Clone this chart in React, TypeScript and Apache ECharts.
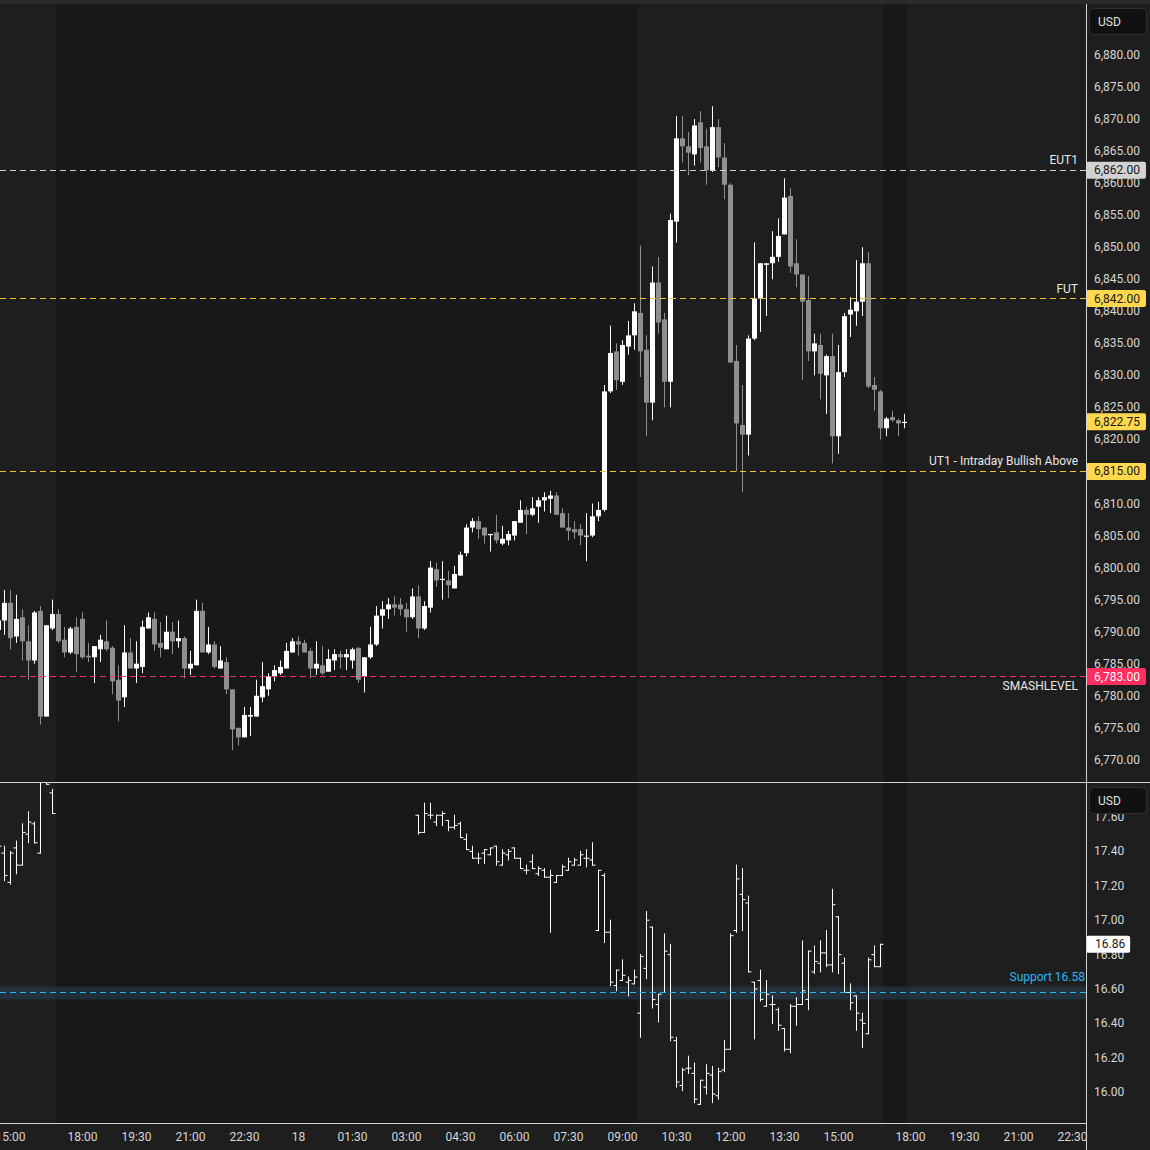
import React, { useEffect, useRef } from "react";
import * as echarts from "echarts";

// ---------------- DATA ----------------
// Bar slots: 10-minute bars, slot 0 = 15:00 of the previous session (17:00-18:00 break removed)
const esFirstSlot = -2;
const esOpen = [
  6790.25, 6791.75, 6794.5, 6789.25, 6792.25, 6788.5, 6785.5, 6793.25, 6776.75, 6790.5,
  6792.75, 6788.75, 6786.75, 6790.75, 6792.0, 6786.25, 6786.0, 6787.25, 6788.5, 6787.5,
  6782.5, 6779.75, 6786.75, 6784.25, 6784.5, 6790.5, 6792.0, 6788.25, 6787.25, 6790.0,
  6788.5, 6789.0, 6784.25, 6784.75, 6793.25, 6786.75, 6788.0, 6784.25, 6785.25, 6781.0,
  6775.0, 6773.5, 6776.75, 6776.75, 6779.75, 6781.0, 6783.0, 6783.5, 6784.25, 6786.75,
  6788.5, 6788.25, 6787.0, 6784.25, 6784.75, 6783.75, 6785.5, 6786.5, 6786.0, 6785.5,
  6787.5, 6783.0, 6786.0, 6788.0, 6792.5, 6793.5, 6794.25, 6794.25, 6793.5, 6792.25,
  6795.5, 6790.5, 6793.75, 6799.75, 6798.25, 6798.0, 6796.75, 6798.75, 6802.25, 6806.25,
  6807.25, 6806.25, 6805.25, 6805.5, 6803.75, 6804.25, 6805.0, 6807.0, 6809.0, 6808.25,
  6809.5, 6810.5, 6810.75, 6811.25, 6808.5, 6806.25, 6806.0, 6806.0, 6805.0, 6805.0,
  6808.0, 6809.0, 6827.5, 6833.75, 6829.0, 6834.5, 6836.25, 6839.75, 6834.0, 6825.75,
  6844.5, 6838.75, 6829.0, 6854.0, 6867.0, 6865.75, 6864.5, 6869.5, 6865.75, 6862.0,
  6868.75, 6864.0, 6859.75, 6832.25, 6822.25, 6820.75, 6835.75, 6842.0, 6847.25, 6847.5,
  6848.5, 6852.0, 6858.0, 6847.5, 6845.75, 6841.75, 6833.75, 6834.75, 6830.0, 6833.0,
  6820.5, 6830.5, 6839.5, 6840.0, 6841.5, 6847.5, 6828.5, 6827.5, 6821.75, 6823.5,
  6823.0, 6822.75,
];
const esClose = [
  6791.75, 6794.5, 6789.0, 6792.0, 6788.5, 6785.5, 6793.0, 6776.75, 6791.0, 6792.75,
  6788.5, 6786.75, 6790.5, 6786.5, 6786.0, 6786.0, 6787.75, 6788.75, 6787.25, 6782.25,
  6779.25, 6786.75, 6784.25, 6785.0, 6790.75, 6792.25, 6788.0, 6787.5, 6790.0, 6788.5,
  6789.0, 6784.25, 6785.0, 6793.25, 6786.75, 6788.0, 6784.5, 6785.5, 6781.0, 6774.75,
  6773.5, 6777.0, 6777.0, 6780.0, 6781.5, 6783.0, 6784.0, 6784.5, 6787.0, 6788.5,
  6788.0, 6786.75, 6784.25, 6785.0, 6783.5, 6785.75, 6786.5, 6786.0, 6786.5, 6787.25,
  6782.5, 6786.0, 6788.0, 6792.5, 6793.5, 6794.25, 6793.75, 6793.5, 6792.25, 6795.5,
  6790.5, 6794.0, 6800.0, 6798.0, 6798.25, 6797.25, 6799.0, 6802.0, 6806.25, 6807.25,
  6806.0, 6805.0, 6805.25, 6804.25, 6804.5, 6805.25, 6807.25, 6809.0, 6808.25, 6809.25,
  6810.5, 6811.0, 6811.25, 6808.25, 6806.25, 6805.75, 6805.5, 6805.0, 6805.0, 6808.0,
  6809.0, 6827.5, 6833.5, 6829.25, 6834.75, 6836.25, 6840.0, 6833.75, 6825.75, 6844.5,
  6838.25, 6829.0, 6854.25, 6867.0, 6865.75, 6864.75, 6869.0, 6865.5, 6862.0, 6868.75,
  6864.0, 6859.75, 6832.0, 6822.5, 6820.75, 6835.75, 6842.0, 6847.5, 6847.5, 6848.5,
  6851.75, 6857.75, 6847.0, 6845.75, 6841.5, 6833.75, 6835.0, 6830.25, 6833.0, 6820.5,
  6830.5, 6839.25, 6840.25, 6841.5, 6847.5, 6828.25, 6827.75, 6821.75, 6823.25, 6823.0,
  6822.5, 6822.75,
];
const esHigh = [
  6792.5, 6796.5, 6796.5, 6795.75, 6793.5, 6791.0, 6793.25, 6794.0, 6791.0, 6795.0,
  6793.5, 6790.75, 6790.75, 6792.25, 6793.0, 6788.25, 6787.75, 6789.5, 6791.75, 6787.75,
  6784.75, 6791.0, 6789.0, 6788.5, 6791.75, 6793.0, 6793.0, 6791.5, 6792.5, 6791.5,
  6791.75, 6789.25, 6787.0, 6795.0, 6794.5, 6790.75, 6788.5, 6787.75, 6786.0, 6781.0,
  6775.0, 6778.25, 6778.25, 6782.5, 6785.25, 6783.5, 6784.75, 6785.5, 6788.25, 6789.0,
  6789.25, 6788.75, 6787.5, 6788.5, 6787.75, 6787.25, 6787.25, 6787.0, 6787.25, 6787.5,
  6787.5, 6786.0, 6790.75, 6794.0, 6794.75, 6795.25, 6795.5, 6795.25, 6794.5, 6796.75,
  6797.25, 6794.75, 6801.0, 6800.75, 6801.0, 6799.5, 6800.25, 6802.5, 6806.75, 6807.75,
  6808.0, 6806.25, 6805.25, 6808.25, 6806.5, 6805.75, 6807.25, 6810.5, 6809.5, 6811.0,
  6811.0, 6811.75, 6812.0, 6811.75, 6809.25, 6808.5, 6807.25, 6806.75, 6808.5, 6810.0,
  6810.25, 6828.5, 6837.75, 6835.0, 6835.5, 6838.5, 6841.25, 6850.25, 6836.25, 6847.0,
  6848.5, 6839.75, 6855.25, 6870.5, 6870.5, 6868.0, 6870.0, 6871.25, 6868.5, 6872.0,
  6870.0, 6866.25, 6860.0, 6834.75, 6828.5, 6836.25, 6850.75, 6847.5, 6847.5, 6852.5,
  6854.5, 6860.75, 6859.25, 6851.25, 6845.75, 6845.5, 6836.5, 6836.5, 6833.25, 6836.5,
  6834.75, 6839.75, 6842.25, 6848.0, 6850.0, 6849.25, 6829.75, 6827.75, 6823.5, 6824.5,
  6823.25, 6824.0,
];
const esLow = [
  6789.5, 6789.5, 6787.25, 6788.25, 6785.5, 6782.5, 6785.0, 6775.5, 6776.75, 6790.25,
  6788.25, 6786.0, 6786.5, 6783.75, 6785.75, 6785.25, 6782.0, 6785.25, 6787.0, 6780.25,
  6776.0, 6778.25, 6784.25, 6782.0, 6783.5, 6790.5, 6787.0, 6786.0, 6787.25, 6786.5,
  6787.5, 6782.75, 6783.25, 6784.75, 6786.75, 6786.5, 6784.25, 6784.25, 6780.25, 6771.5,
  6772.25, 6773.5, 6773.75, 6776.75, 6779.0, 6780.0, 6782.25, 6783.25, 6784.25, 6786.75,
  6786.25, 6786.75, 6782.75, 6783.25, 6783.25, 6783.75, 6784.0, 6784.25, 6784.0, 6784.25,
  6782.0, 6780.5, 6785.75, 6787.75, 6790.5, 6792.0, 6792.5, 6792.5, 6790.0, 6792.0,
  6789.0, 6790.25, 6793.0, 6797.0, 6795.0, 6795.25, 6796.75, 6798.75, 6801.75, 6805.5,
  6804.5, 6803.75, 6802.5, 6803.75, 6803.5, 6803.5, 6804.25, 6807.0, 6805.25, 6808.0,
  6807.0, 6808.75, 6808.5, 6808.25, 6806.25, 6804.25, 6804.5, 6803.5, 6801.0, 6804.75,
  6807.25, 6808.75, 6827.25, 6827.75, 6828.5, 6833.25, 6834.0, 6829.75, 6820.5, 6823.0,
  6836.5, 6825.0, 6825.0, 6850.75, 6863.25, 6861.25, 6862.75, 6863.25, 6859.75, 6861.75,
  6862.5, 6857.5, 6832.0, 6815.0, 6811.75, 6817.5, 6835.5, 6836.75, 6839.25, 6845.0,
  6847.75, 6852.0, 6846.0, 6843.75, 6829.25, 6832.25, 6830.0, 6826.25, 6824.0, 6816.25,
  6817.75, 6829.75, 6836.0, 6837.75, 6839.25, 6828.0, 6824.5, 6820.0, 6820.5, 6822.75,
  6820.5, 6821.75,
];

// VIX bars (lower pane), same slot numbering
const vixSlots = [
  -2, -1, 0, 1, 2, 3, 4, 5, 6, 7,
  68, 69, 70, 71, 72, 73, 74, 75, 76, 77,
  78, 79, 80, 81, 82, 83, 84, 85, 86, 87,
  88, 89, 90, 91, 92, 93, 94, 95, 96, 97,
  98, 99, 100, 101, 102, 103, 104, 105, 106, 107,
  108, 109, 110, 111, 112, 113, 114, 115, 116, 117,
  118, 119, 120, 121, 122, 123, 124, 125, 126, 127,
  128, 129, 130, 131, 132, 133, 134, 135, 136, 137,
  138, 139, 140, 141, 142, 143, 144, 145,
];
const vixOpen = [
  17.45, 17.39, 17.22, 17.42, 17.32, 17.50, 17.56, 17.39, 17.86, 17.74,
  17.61, 17.51, 17.61, 17.57, 17.61, 17.58, 17.54, 17.56, 17.47, 17.40,
  17.36, 17.39, 17.38, 17.43, 17.32, 17.38, 17.42, 17.36, 17.29, 17.34,
  17.27, 17.29, 17.25, 17.22, 17.26, 17.29, 17.32, 17.32, 17.36, 17.35,
  16.94, 17.26, 16.93, 16.62, 16.65, 16.64, 16.63, 16.46, 16.72, 16.96,
  16.51, 16.58, 16.80, 16.30, 16.04, 16.14, 16.11, 15.93, 16.03, 16.10,
  15.98, 16.13, 16.25, 16.94, 17.15, 17.10, 16.64, 16.65, 16.50, 16.51,
  16.48, 16.37, 16.25, 16.50, 16.51, 16.54, 16.70, 16.75, 16.81, 16.74,
  17.02, 16.75, 16.58, 16.56, 16.42, 16.34, 16.80, 16.73,
];
const vixHigh = [
  17.47, 17.43, 17.40, 17.46, 17.56, 17.63, 17.57, 17.86, 17.92, 17.76,
  17.61, 17.68, 17.68, 17.61, 17.63, 17.58, 17.61, 17.57, 17.50, 17.43,
  17.39, 17.41, 17.42, 17.43, 17.41, 17.41, 17.42, 17.36, 17.32, 17.38,
  17.31, 17.30, 17.29, 17.26, 17.32, 17.36, 17.36, 17.40, 17.41, 17.45,
  17.29, 17.27, 17.00, 16.71, 16.77, 16.67, 16.71, 16.80, 17.05, 16.96,
  16.57, 16.92, 16.86, 16.32, 16.14, 16.21, 16.17, 16.07, 16.16, 16.15,
  16.14, 16.30, 16.92, 17.32, 17.30, 17.14, 16.64, 16.71, 16.65, 16.56,
  16.49, 16.37, 16.51, 16.55, 16.88, 16.82, 16.85, 16.88, 16.94, 17.18,
  17.02, 16.78, 16.63, 16.56, 16.46, 16.78, 16.85, 16.86,
];
const vixLow = [
  17.40, 17.23, 17.21, 17.27, 17.32, 17.45, 17.45, 17.39, 17.79, 17.62,
  17.50, 17.51, 17.59, 17.55, 17.55, 17.52, 17.53, 17.48, 17.41, 17.36,
  17.33, 17.33, 17.38, 17.32, 17.32, 17.35, 17.36, 17.30, 17.27, 17.30,
  17.26, 17.25, 16.93, 17.22, 17.26, 17.29, 17.32, 17.32, 17.31, 17.32,
  16.94, 16.87, 16.62, 16.59, 16.65, 16.56, 16.63, 16.32, 16.66, 16.49,
  16.41, 16.58, 16.30, 16.03, 16.01, 16.11, 15.94, 15.93, 15.99, 15.94,
  15.96, 16.12, 16.25, 16.93, 16.94, 16.70, 16.31, 16.53, 16.50, 16.40,
  16.36, 16.24, 16.23, 16.39, 16.51, 16.48, 16.69, 16.70, 16.73, 16.70,
  16.69, 16.58, 16.48, 16.36, 16.26, 16.34, 16.73, 16.73,
];
const vixClose = [
  17.43, 17.26, 17.39, 17.32, 17.51, 17.57, 17.45, 17.84, 17.79, 17.62,
  17.51, 17.62, 17.61, 17.61, 17.62, 17.54, 17.55, 17.48, 17.41, 17.36,
  17.36, 17.41, 17.42, 17.34, 17.39, 17.40, 17.36, 17.30, 17.29, 17.30,
  17.30, 17.25, 17.26, 17.26, 17.31, 17.34, 17.35, 17.38, 17.36, 17.32,
  17.29, 16.93, 16.64, 16.71, 16.68, 16.65, 16.67, 16.79, 17.00, 16.54,
  16.57, 16.82, 16.32, 16.06, 16.13, 16.14, 15.96, 16.07, 16.11, 15.99,
  16.12, 16.25, 16.91, 17.24, 17.12, 16.70, 16.60, 16.54, 16.57, 16.51,
  16.39, 16.25, 16.50, 16.51, 16.59, 16.82, 16.76, 16.81, 16.74, 17.09,
  16.80, 16.58, 16.52, 16.46, 16.40, 16.77, 16.73, 16.86,
];

// Time axis ticks
const timeTickSlots = [0, 12, 21, 30, 39, 48, 57, 66, 75, 84, 93, 102, 111, 120, 129, 138, 150, 159, 168, 177];
const timeTickLabels = [
  "15:00", "18:00", "19:30", "21:00", "22:30", "18", "01:30", "03:00", "04:30", "06:00",
  "07:30", "09:00", "10:30", "12:00", "13:30", "15:00", "18:00", "19:30", "21:00", "22:30",
];
const esTicks = [
  6770, 6775, 6780, 6785, 6790, 6795, 6800, 6805, 6810, 6815, 6820, 6825,
  6830, 6835, 6840, 6845, 6850, 6855, 6860, 6865, 6870, 6875, 6880,
];
const vixTicks = [16.0, 16.2, 16.4, 16.6, 16.8, 17.0, 17.2, 17.4, 17.6];

// Extended-hours shading (slot ranges)
const extHoursStart = [7.5, 145.5];
const extHoursEnd = [104.5, 149.5];

// Levels
const levelNames = ["EUT1", "FUT", "UT1 - Intraday Bullish Above", "SMASHLEVEL"];
const levelPrices = [6862, 6842, 6815, 6783];
const lastEsPrice = 6822.75;
const lastVix = 16.86;
const vixSupport = 16.58;
const vixSupportBandLow = 16.54;
const vixSupportBandHigh = 16.615;

// ---------------- STYLE / LAYOUT ----------------
const FONT = 'Roboto, "Noto Sans", "Liberation Sans", sans-serif';
const AXIS_TEXT = "#d6d6d6";
const LINE_COLOR = "#d4d4d4";
const X_MIN = -1.75;
const X_MAX = 179.25;
const ES_MIN = 6766.537;
const ES_MAX = 6887.809;
const VIX_MIN = 15.8217;
const VIX_MAX = 17.8031;
const levelLineColors = ["#cfcfcf", "#f2c230", "#f2c230", "#ff2e5e"];
const levelTagBg = ["#d2d2d2", "#ffd84d", "#ffd84d", "#ff2e5e"];
const levelTagText = ["#161616", "#161616", "#161616", "#ffffff"];
const levelNamePos = ["insideEndTop", "insideEndTop", "insideEndTop", "insideEndBottom"];
const levelNameDist = [[8, 4], [8, 4], [8, 4], [8, 3]];
const HIDDEN_LINE = { color: "rgba(0,0,0,0)", width: 0, opacity: 1 };

const fmtPrice = (v: number) =>
  v.toLocaleString("en-US", { minimumFractionDigits: 2, maximumFractionDigits: 2 });

function buildOption() {
  const esData = esOpen.map((o, i) => [esFirstSlot + i, o, esClose[i], esLow[i], esHigh[i]]);
  const vixData = vixSlots.map((s, i) => [s, vixOpen[i], vixClose[i], vixLow[i], vixHigh[i]]);

  const shadeAreas = extHoursStart.map((s, i) => [
    { xAxis: s, itemStyle: { color: "#181818" } },
    { xAxis: extHoursEnd[i] },
  ]);

  const tag = (bg: string, fg: string, text: string, pad: number[]) => ({
    show: true,
    position: "end",
    distance: 0,
    formatter: text,
    backgroundColor: bg,
    color: fg,
    opacity: 1,
    fontSize: 12,
    lineHeight: 14,
    padding: pad,
    borderRadius: 2,
    fontFamily: FONT,
  });

  const esMarkLines: any[] = [];
  levelPrices.forEach((p, i) => {
    esMarkLines.push({
      yAxis: p,
      lineStyle: { color: levelLineColors[i], type: [6, 4], width: 1, opacity: 1 },
      label: {
        show: true,
        position: levelNamePos[i],
        distance: levelNameDist[i],
        formatter: levelNames[i],
        color: "#e8e8e8",
        fontSize: 12,
        fontFamily: FONT,
      },
    });
  });
  levelPrices.forEach((p, i) => {
    esMarkLines.push({
      yAxis: p,
      lineStyle: HIDDEN_LINE,
      label: tag(levelTagBg[i], levelTagText[i], fmtPrice(p), [2, 6, 1, 8]),
    });
  });
  esMarkLines.push({
    yAxis: lastEsPrice,
    lineStyle: HIDDEN_LINE,
    label: tag("#ffd84d", "#161616", fmtPrice(lastEsPrice), [2, 6, 1, 8]),
  });

  const vixMarkLines: any[] = [
    {
      yAxis: vixSupport,
      lineStyle: { color: "#29b6f6", type: [6, 4], width: 1 },
      label: {
        show: true,
        position: "insideEndTop",
        distance: [1, 9],
        formatter: "Support " + vixSupport.toFixed(2),
        color: "#29b6f6",
        fontSize: 12,
        fontFamily: FONT,
      },
    },
    {
      yAxis: lastVix,
      lineStyle: HIDDEN_LINE,
      label: tag("#ffffff", "#161616", lastVix.toFixed(2), [2, 5, 1, 9]),
    },
  ];

  const candleRender = (params: any, api: any) => {
    const k = api.value(0);
    const o = api.value(1);
    const c = api.value(2);
    const l = api.value(3);
    const h = api.value(4);
    const pO = api.coord([k, o]);
    const pC = api.coord([k, c]);
    const pL = api.coord([k, l]);
    const pH = api.coord([k, h]);
    const up = c >= o;
    const color = up ? "#ffffff" : "#8f8f8f";
    const x = pO[0];
    const top = Math.min(pO[1], pC[1]);
    const hgt = Math.max(1.2, Math.abs(pO[1] - pC[1]));
    return {
      type: "group",
      children: [
        { type: "line", shape: { x1: x, y1: pH[1], x2: x, y2: pL[1] }, style: { stroke: color, lineWidth: 1 } },
        { type: "rect", shape: { x: x - 2.5, y: top, width: 5, height: hgt }, style: { fill: color } },
      ],
    };
  };

  const ohlcRender = (params: any, api: any) => {
    const k = api.value(0);
    const pO = api.coord([k, api.value(1)]);
    const pC = api.coord([k, api.value(2)]);
    const pL = api.coord([k, api.value(3)]);
    const pH = api.coord([k, api.value(4)]);
    const x = pO[0];
    const st = { stroke: "#ffffff", lineWidth: 1 };
    return {
      type: "group",
      children: [
        { type: "line", shape: { x1: x, y1: pH[1] - 0.5, x2: x, y2: pL[1] + 0.5 }, style: st },
        { type: "line", shape: { x1: x - 3, y1: pO[1], x2: x, y2: pO[1] }, style: st },
        { type: "line", shape: { x1: x, y1: pC[1], x2: x + 3, y2: pC[1] }, style: st },
      ],
    };
  };

  const timeLabelMap: Record<string, string> = {};
  timeTickSlots.forEach((s, i) => (timeLabelMap[String(s)] = timeTickLabels[i]));

  return {
    animation: false,
    backgroundColor: "#1e1e1e",
    textStyle: { fontFamily: FONT },
    grid: [
      { left: 0, top: 5, width: 1086, height: 777, containLabel: false, outerBoundsMode: "none" },
      { left: 0, top: 782, width: 1086, height: 341, containLabel: false, outerBoundsMode: "none" },
    ],
    xAxis: [
      {
        type: "value",
        gridIndex: 0,
        min: X_MIN,
        max: X_MAX,
        axisLine: { show: false },
        axisTick: { show: false },
        axisLabel: { show: false },
        splitLine: { show: false },
      },
      {
        type: "value",
        gridIndex: 1,
        min: X_MIN,
        max: X_MAX,
        axisLine: { show: true, onZero: false, lineStyle: { color: LINE_COLOR, width: 1 } },
        axisTick: { show: false },
        splitLine: { show: false },
        axisLabel: {
          show: true,
          customValues: timeTickSlots,
          formatter: (v: number) => timeLabelMap[String(Math.round(v))] || "",
          color: AXIS_TEXT,
          fontSize: 12,
          margin: 8,
          fontFamily: FONT,
        },
      },
    ],
    yAxis: [
      {
        type: "value",
        gridIndex: 0,
        position: "right",
        min: ES_MIN,
        max: ES_MAX,
        axisLine: { show: false },
        axisTick: { show: false },
        splitLine: { show: false },
        axisLabel: {
          show: true,
          customValues: esTicks,
          formatter: (v: number) => fmtPrice(v),
          color: AXIS_TEXT,
          fontSize: 12,
          margin: 8,
          align: "left",
          padding: [0, 0, 3, 0],
          fontFamily: FONT,
        },
      },
      {
        type: "value",
        gridIndex: 1,
        position: "right",
        min: VIX_MIN,
        max: VIX_MAX,
        axisLine: { show: false },
        axisTick: { show: false },
        splitLine: { show: false },
        axisLabel: {
          show: true,
          customValues: vixTicks,
          formatter: (v: number) => v.toFixed(2),
          color: AXIS_TEXT,
          fontSize: 12,
          margin: 8,
          align: "left",
          fontFamily: FONT,
        },
      },
    ],
    series: [
      {
        type: "custom",
        name: "ES",
        xAxisIndex: 0,
        yAxisIndex: 0,
        clip: true,
        renderItem: candleRender,
        encode: { x: 0, y: [1, 2, 3, 4] },
        data: esData,
        z: 3,
        silent: true,
        markArea: { silent: true, data: shadeAreas },
        markLine: { silent: true, symbol: ["none", "none"], data: esMarkLines, z: 6 },
      },
      {
        type: "custom",
        name: "VIX",
        xAxisIndex: 1,
        yAxisIndex: 1,
        clip: true,
        renderItem: ohlcRender,
        encode: { x: 0, y: [1, 2, 3, 4] },
        data: vixData,
        z: 3,
        silent: true,
        markArea: {
          silent: true,
          data: [
            ...shadeAreas,
            [
              { yAxis: vixSupportBandLow, itemStyle: { color: "rgba(48,108,152,0.25)" } },
              { yAxis: vixSupportBandHigh },
            ],
          ],
        },
        markLine: { silent: true, symbol: ["none", "none"], data: vixMarkLines, z: 6 },
      },
    ],
    graphic: [
      { type: "rect", z: 100, shape: { x: 0, y: 0, width: 1150, height: 4 }, style: { fill: "#2a2a2a" } },
      { type: "line", z: 100, shape: { x1: 1086.5, y1: 4, x2: 1086.5, y2: 1150 }, style: { stroke: LINE_COLOR, lineWidth: 1 } },
      { type: "line", z: 100, shape: { x1: 0, y1: 782.5, x2: 1150, y2: 782.5 }, style: { stroke: LINE_COLOR, lineWidth: 1 } },
      {
        type: "rect",
        z: 100,
        shape: { x: 1089.5, y: 8.5, width: 57, height: 26, r: 4 },
        style: { fill: "#111111", stroke: "#2e2e2e", lineWidth: 1 },
      },
      {
        type: "text",
        z: 101,
        x: 1098,
        y: 21.5,
        style: { text: "USD", fill: "#e0e0e0", font: `12px ${FONT}`, verticalAlign: "middle" },
      },
      {
        type: "rect",
        z: 100,
        shape: { x: 1089.5, y: 787.5, width: 57, height: 26, r: 4 },
        style: { fill: "#111111", stroke: "#2e2e2e", lineWidth: 1 },
      },
      {
        type: "text",
        z: 101,
        x: 1098,
        y: 800.5,
        style: { text: "USD", fill: "#e0e0e0", font: `12px ${FONT}`, verticalAlign: "middle" },
      },
    ],
  };
}

export default function App() {
  const ref = useRef<HTMLDivElement>(null);
  useEffect(() => {
    if (!ref.current) return;
    const chart = echarts.init(ref.current, null, { renderer: "svg" });
    chart.setOption(buildOption() as any);
    return () => chart.dispose();
  }, []);
  return (
    <div
      ref={ref}
      style={{ position: "absolute", left: 0, top: 0, width: 1150, height: 1150 }}
    />
  );
}
